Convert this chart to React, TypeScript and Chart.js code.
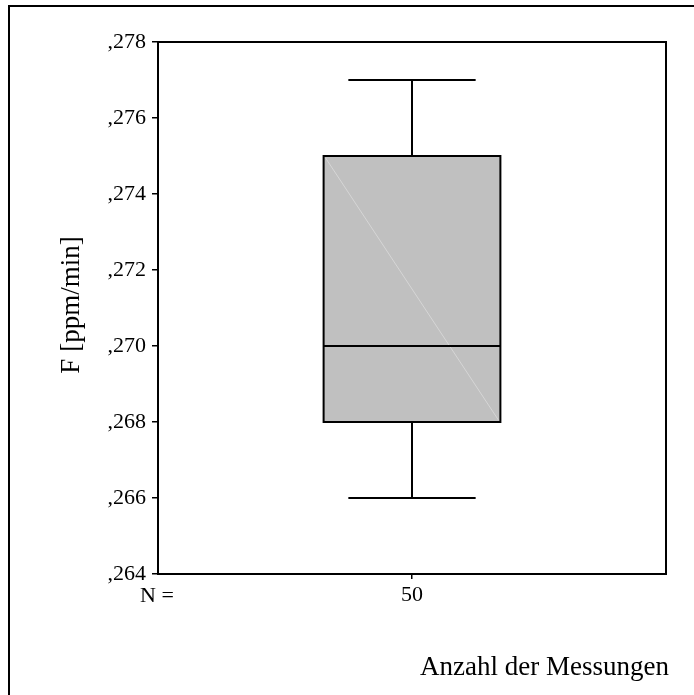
import React, { useEffect, useRef } from "react";
import { Chart, registerables } from "chart.js";

Chart.register(...registerables);

// ---- data ----
const nCounts: string[] = ["50"];
const q1Values: number[] = [0.268];
const q3Values: number[] = [0.275];
const medianValues: number[] = [0.27];
const whiskerLow: number[] = [0.266];
const whiskerHigh: number[] = [0.277];
const yTicks: number[] = [0.264, 0.266, 0.268, 0.27, 0.272, 0.274, 0.276, 0.278];
const yTitle = "F [ppm/min]";
const xTitle = "Anzahl der Messungen";
const nLabel = "N =";

const FONT = "'Liberation Serif', 'Times New Roman', serif";

const boxPlotPlugin = {
  id: "boxPlotExtras",
  beforeDraw(chart: any) {
    const ctx = chart.ctx;
    ctx.save();
    ctx.fillStyle = "#ffffff";
    ctx.fillRect(0, 0, chart.width, chart.height);
    ctx.strokeStyle = "#000000";
    ctx.lineWidth = 2;
    ctx.strokeRect(9, 6, chart.width + 20, chart.height + 20);
    ctx.restore();
  },
  afterDatasetsDraw(chart: any) {
    const ctx = chart.ctx;
    const xs = chart.scales.x;
    const ys = chart.scales.y;
    const meta = chart.getDatasetMeta(0);
    ctx.save();
    meta.data.forEach((bar: any, i: number) => {
      const cx = xs.getPixelForValue(i);
      const half = bar.width / 2;
      const capHalf = half * 0.72;
      const yQ1 = ys.getPixelForValue(q1Values[i]);
      const yQ3 = ys.getPixelForValue(q3Values[i]);
      const yMed = ys.getPixelForValue(medianValues[i]);
      const yLo = ys.getPixelForValue(whiskerLow[i]);
      const yHi = ys.getPixelForValue(whiskerHigh[i]);
      // faint diagonal artifact
      ctx.strokeStyle = "#d6d6d6";
      ctx.lineWidth = 1;
      ctx.beginPath();
      ctx.moveTo(cx - half + 2, yQ3 + 2);
      ctx.lineTo(cx + half - 2, yQ1 - 2);
      ctx.stroke();
      // box outline
      ctx.strokeStyle = "#000000";
      ctx.lineWidth = 2;
      ctx.strokeRect(cx - half, yQ3, half * 2, yQ1 - yQ3);
      // median
      ctx.beginPath();
      ctx.moveTo(cx - half, yMed);
      ctx.lineTo(cx + half, yMed);
      // whiskers
      ctx.moveTo(cx, yQ3);
      ctx.lineTo(cx, yHi);
      ctx.moveTo(cx - capHalf, yHi);
      ctx.lineTo(cx + capHalf, yHi);
      ctx.moveTo(cx, yQ1);
      ctx.lineTo(cx, yLo);
      ctx.moveTo(cx - capHalf, yLo);
      ctx.lineTo(cx + capHalf, yLo);
      ctx.stroke();
    });
    ctx.restore();
  },
  afterDraw(chart: any) {
    const ctx = chart.ctx;
    const a = chart.chartArea;
    ctx.save();
    ctx.strokeStyle = "#000000";
    ctx.lineWidth = 2;
    ctx.strokeRect(a.left, a.top, a.right - a.left, a.bottom - a.top);
    ctx.fillStyle = "#000000";
    // y title
    ctx.font = `27px ${FONT}`;
    ctx.textAlign = "center";
    ctx.textBaseline = "middle";
    ctx.save();
    ctx.translate(72, (a.top + a.bottom) / 2 - 3);
    ctx.rotate(-Math.PI / 2);
    ctx.fillText(yTitle, 0, 0);
    ctx.restore();
    // x title
    ctx.textAlign = "right";
    ctx.textBaseline = "alphabetic";
    ctx.fillText(xTitle, 669, 675);
    // N =
    ctx.font = `22px ${FONT}`;
    ctx.textAlign = "left";
    ctx.fillText(nLabel, 140, 602);
    ctx.restore();
  },
};

export default function App() {
  const ref = useRef<HTMLCanvasElement | null>(null);
  useEffect(() => {
    document.body.style.margin = "0";
    const canvas = ref.current;
    if (!canvas) return;
    const chart = new Chart(canvas, {
      type: "bar",
      data: {
        labels: nCounts,
        datasets: [
          {
            data: q1Values.map((v, i) => [v, q3Values[i]]) as any,
            backgroundColor: "#c0c0c0",
            borderWidth: 0,
            borderSkipped: false,
            categoryPercentage: 1,
            barPercentage: 0.348,
          },
        ],
      },
      options: {
        animation: false,
        responsive: false,
        devicePixelRatio: 1,
        events: [],
        layout: { padding: { top: 42, right: 28, left: 0, bottom: 0 } },
        plugins: {
          legend: { display: false },
          tooltip: { enabled: false },
          title: { display: false },
        },
        scales: {
          x: {
            type: "category",
            offset: true,
            grid: {
              display: true,
              offset: false,
              drawOnChartArea: false,
              drawTicks: true,
              tickLength: 5,
              color: "#000000",
              lineWidth: 1.5,
            },
            border: { display: false },
            ticks: {
              color: "#000000",
              font: { family: FONT, size: 22 },
              padding: 3,
              maxRotation: 0,
            },
            afterFit: (s: any) => {
              s.height = 121;
            },
          },
          y: {
            type: "linear",
            min: 0.264,
            max: 0.278,
            afterBuildTicks: (s: any) => {
              s.ticks = yTicks.map((v) => ({ value: v }));
            },
            grid: {
              display: true,
              drawOnChartArea: false,
              drawTicks: true,
              tickLength: 6,
              color: "#000000",
              lineWidth: 1.5,
            },
            border: { display: false },
            ticks: {
              color: "#000000",
              font: { family: FONT, size: 22 },
              padding: 6,
              callback: (v: any) => Number(v).toFixed(3).replace(/^0\./, ","),
            },
            afterFit: (s: any) => {
              s.width = 158;
            },
          },
        },
      },
      plugins: [boxPlotPlugin],
    });
    return () => chart.destroy();
  }, []);
  return (
    <div style={{ position: "absolute", left: 0, top: 0, width: 694, height: 695 }}>
      <canvas ref={ref} width={694} height={695} />
    </div>
  );
}
